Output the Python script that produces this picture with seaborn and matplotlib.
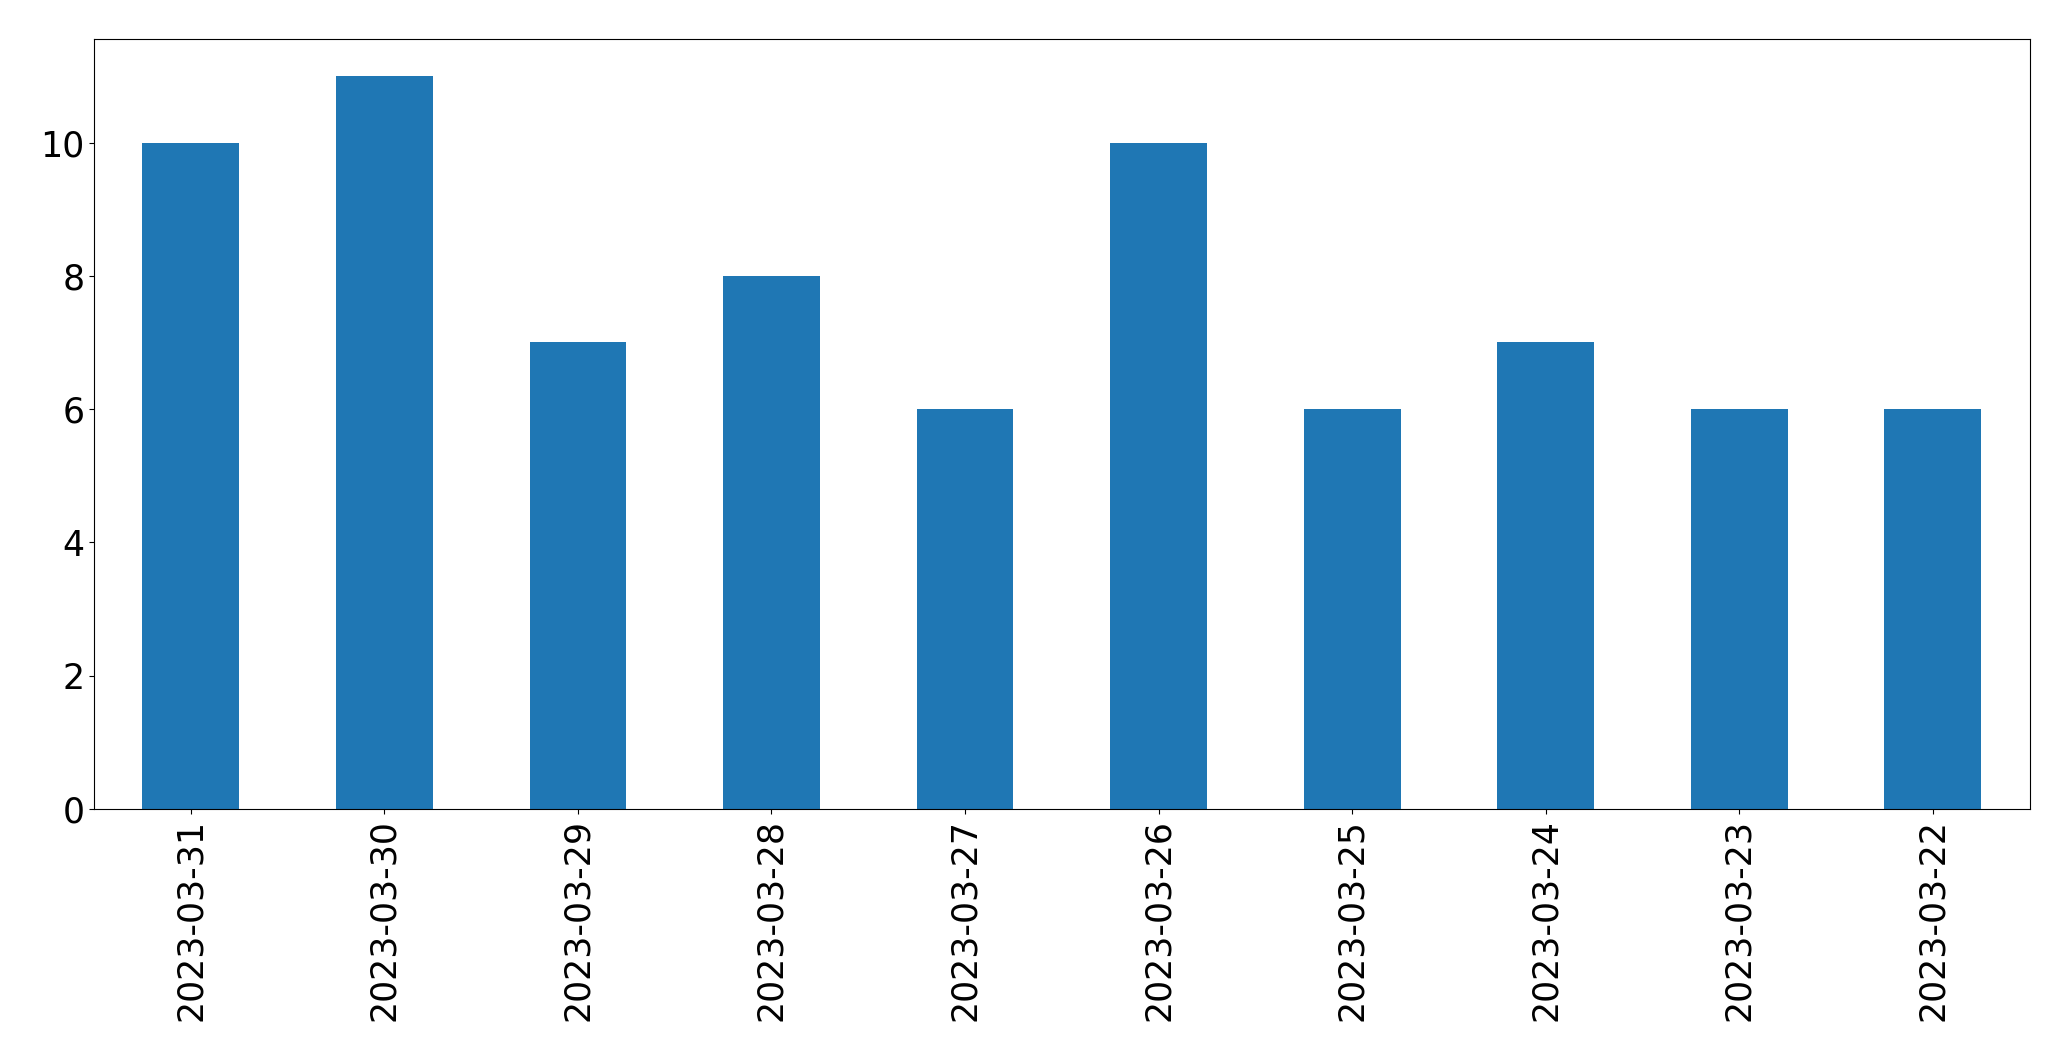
import matplotlib
matplotlib.use("Agg")
import matplotlib.pyplot as plt
import seaborn as sns
import pandas as pd

dates = ['2023-03-31', '2023-03-30', '2023-03-29', '2023-03-28', '2023-03-27',
         '2023-03-26', '2023-03-25', '2023-03-24', '2023-03-23', '2023-03-22']
counts = [10, 11, 7, 8, 6, 10, 6, 7, 6, 6]

df = pd.DataFrame({'date': dates, 'count': counts})

fig = plt.figure(figsize=(20.71, 10.61), dpi=100)
ax = fig.add_axes([0.0454, 0.2375, 0.9346, 0.7255])
sns.barplot(data=df, x='date', y='count', order=dates, color='#1f77b4',
            saturation=1, width=0.5, linewidth=0, ax=ax)
ax.set_xlim(-0.5, len(dates) - 0.5)
ax.set_ylim(0, 11.55)
ax.set_xlabel('')
ax.set_ylabel('')
ax.tick_params(axis='x', labelrotation=90, labelsize=25)
ax.tick_params(axis='y', labelsize=25)
plt.savefig('out.png', dpi=100)
